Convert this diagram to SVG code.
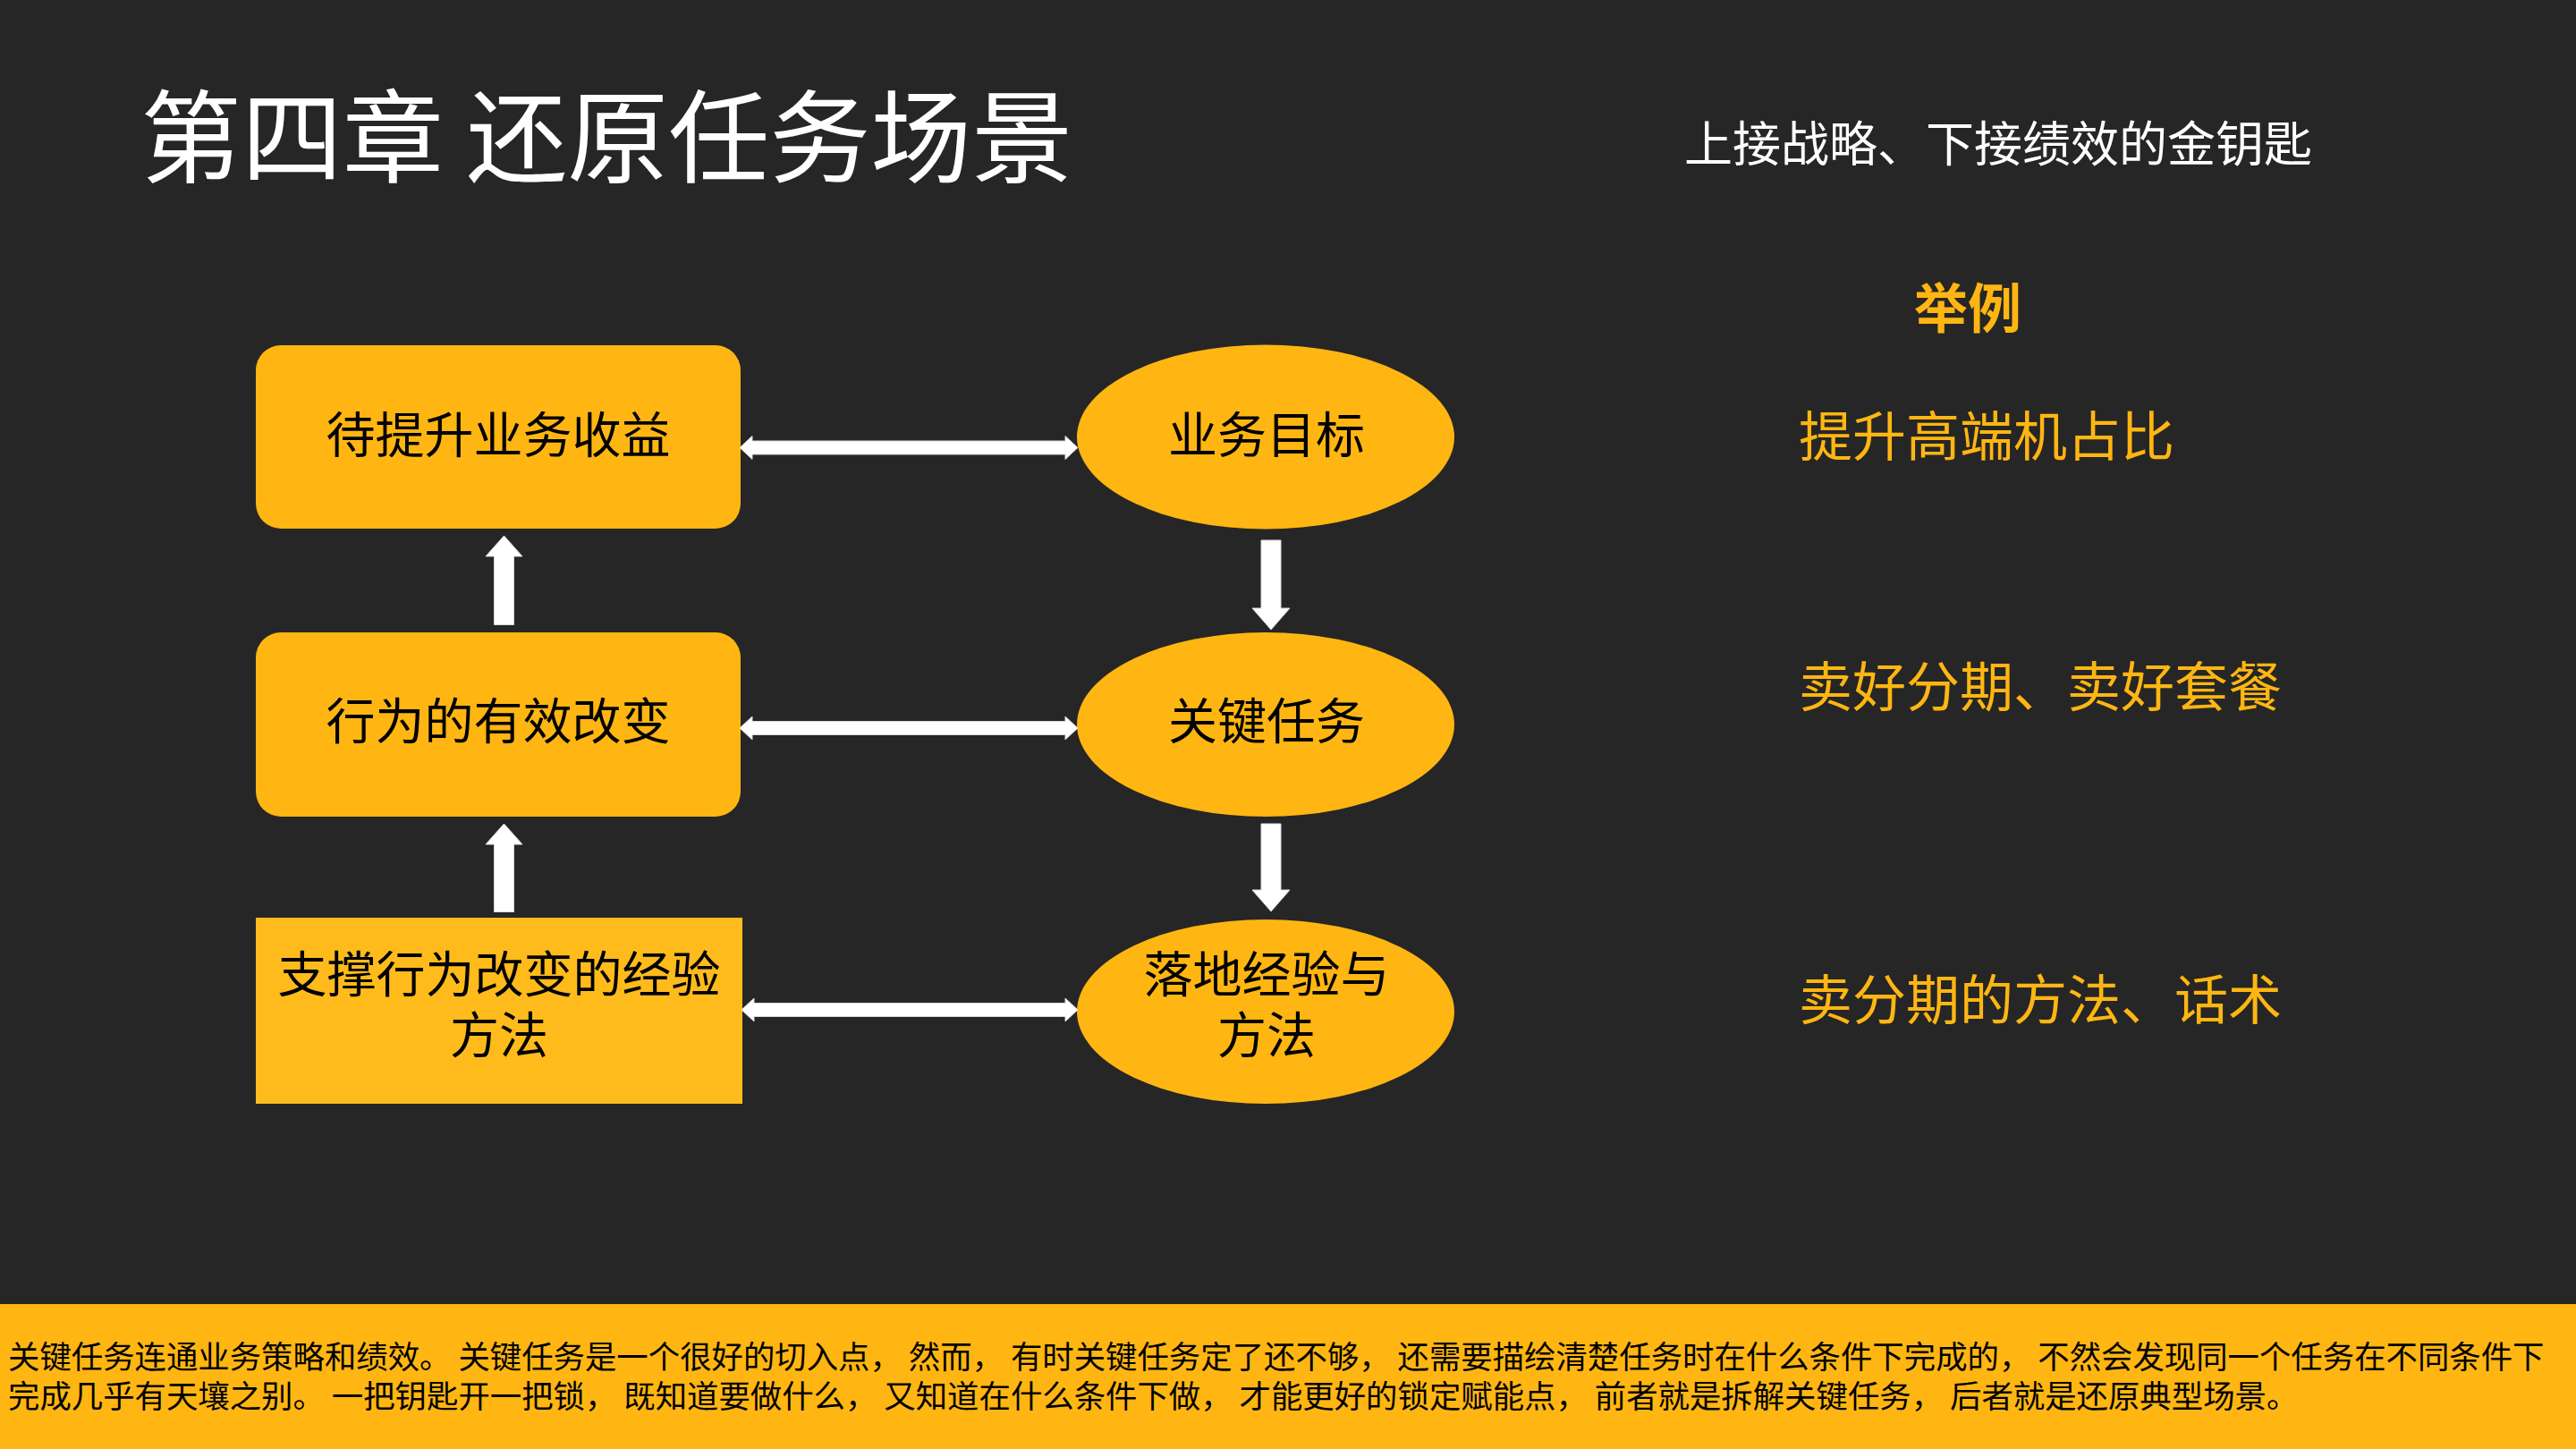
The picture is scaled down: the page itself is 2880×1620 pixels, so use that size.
<svg xmlns="http://www.w3.org/2000/svg" width="2880" height="1620" viewBox="0 0 2880 1620">
  <style>
    .cjk { font-family: "Noto Sans CJK SC", "Noto Sans", sans-serif; }
    .node { fill: #FFB612; }
    .nodeSq { fill: #FFBB1C; }
    .ntext { font-size: 55px; fill: #000000; text-anchor: middle; }
    .orange { fill: #FFB612; }
    .arrow { fill: #FFFFFF; stroke: #D9D9D9; stroke-width: 1; }
    .btext { font-size: 35.4px; fill: #000000; }
  </style>
  <rect x="0" y="0" width="2880" height="1620" fill="#262626"/>

  <g id="title">
    <text class="cjk" x="157" y="195" font-size="113" fill="#FFFFFF">第四章 还原任务场景</text>
  </g>
  <g id="subtitle">
    <text class="cjk" x="1883" y="181" font-size="54" fill="#FFFFFF">上接战略、下接绩效的金钥匙</text>
  </g>

  <g id="examples">
    <text class="cjk orange" x="2200" y="367" font-size="60" font-weight="bold" text-anchor="middle">举例</text>
    <text class="cjk orange" x="2011" y="510" font-size="60">提升高端机占比</text>
    <text class="cjk orange" x="2011" y="790" font-size="60">卖好分期、卖好套餐</text>
    <text class="cjk orange" x="2011" y="1140" font-size="60">卖分期的方法、话术</text>
  </g>

  <g id="node-revenue">
    <rect class="node" x="286" y="386" width="542" height="205" rx="28" ry="28"/>
    <text class="cjk ntext" x="557" y="506">待提升业务收益</text>
  </g>
  <g id="node-behavior">
    <rect class="node" x="286" y="707" width="542" height="206" rx="28" ry="28"/>
    <text class="cjk ntext" x="557" y="826">行为的有效改变</text>
  </g>
  <g id="node-support">
    <rect class="nodeSq" x="286" y="1026" width="544" height="208"/>
    <text class="cjk ntext" x="558" y="1109">支撑行为改变的经验<tspan x="558" dy="68">方法</tspan></text>
  </g>
  <g id="node-goal">
    <ellipse class="node" cx="1415" cy="488.5" rx="211" ry="103"/>
    <text class="cjk ntext" x="1416" y="506">业务目标</text>
  </g>
  <g id="node-task">
    <ellipse class="node" cx="1415" cy="810" rx="211" ry="103"/>
    <text class="cjk ntext" x="1416" y="826">关键任务</text>
  </g>
  <g id="node-method">
    <ellipse class="node" cx="1415" cy="1131" rx="211" ry="103"/>
    <text class="cjk ntext" x="1416" y="1109">落地经验与<tspan x="1416" dy="68">方法</tspan></text>
  </g>

  <g id="connectors">
    <polygon class="arrow" points="827,500.5 841,487.5 841,493 1191,493 1191,487.5 1205,500.5 1191,513.5 1191,508 841,508 841,513.5"/>
    <polygon class="arrow" points="827,814 841,801 841,806.5 1191,806.5 1191,801 1205,814 1191,827 1191,821.5 841,821.5 841,827"/>
    <polygon class="arrow" points="829,1129 843,1116 843,1121.5 1191,1121.5 1191,1116 1205,1129 1191,1142 1191,1136.5 843,1136.5 843,1142"/>
    <polygon class="arrow" points="563.5,599 584,622 574.5,622 574.5,698.5 552.5,698.5 552.5,622 543,622"/>
    <polygon class="arrow" points="563.5,921 584,944 574.5,944 574.5,1019.5 552.5,1019.5 552.5,944 543,944"/>
    <polygon class="arrow" points="1410,604 1432,604 1432,680 1442,680 1421,704 1400,680 1410,680"/>
    <polygon class="arrow" points="1410,921 1432,921 1432,995 1442,995 1421,1019 1400,995 1410,995"/>
  </g>

  <g id="banner">
    <rect x="0" y="1458" width="2880" height="162" fill="#FFB612"/>
    <text class="cjk btext" x="9" y="1530">关键任务连通业务策略和绩效。 关键任务是一个很好的切入点， 然而， 有时关键任务定了还不够， 还需要描绘清楚任务时在什么条件下完成的， 不然会发现同一个任务在不同条件下<tspan x="9" dy="44">完成几乎有天壤之别。 一把钥匙开一把锁， 既知道要做什么， 又知道在什么条件下做， 才能更好的锁定赋能点， 前者就是拆解关键任务， 后者就是还原典型场景。</tspan></text>
  </g>
</svg>
